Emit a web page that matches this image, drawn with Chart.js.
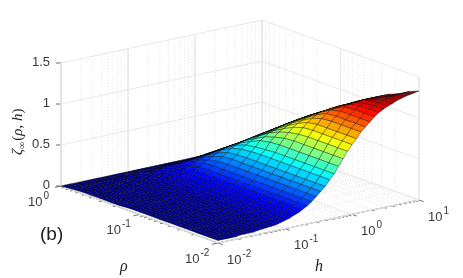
<!DOCTYPE html>
<html>
<head>
<meta charset="utf-8">
<title>zeta surface</title>
<script src="https://cdn.jsdelivr.net/npm/chart.js@4"></script>
<style>
  html, body { margin: 0; padding: 0; background: #fff; }
  canvas { display: block; }
</style>
</head>
<body>
<canvas id="surface" width="463" height="278"></canvas>
<script>
/* ---- Data ---- */

// log10 of h along a row, log10 of rho down the rows
const hExp = [-2, -1.933, -1.867, -1.8, -1.733, -1.667, -1.6, -1.533, -1.467, -1.4, -1.333, -1.267, -1.2, -1.133, -1.067, -1, -0.933, -0.867, -0.8, -0.733, -0.667, -0.6, -0.533, -0.467, -0.4, -0.333, -0.267, -0.2, -0.133, -0.067, 0, 0.067, 0.133, 0.2, 0.267, 0.333, 0.4, 0.467, 0.533, 0.6, 0.667, 0.733, 0.8, 0.867, 0.933, 1];
const rhoExp = [0, -0.125, -0.25, -0.375, -0.5, -0.625, -0.75, -0.875, -1, -1.125, -1.25, -1.375, -1.5, -1.625, -1.75, -1.875, -2];

// zeta(rho, h): one row per rho, one column per h
const zeta = [
  [0, 0, 0, 0, 0, 0, 0, 0, 0, 0, 0, 0, 0, 0, 0, 0, 0, 0, 0, 0, 0, 0, 0, 0, 0, 0, 0, 0, 0, 0, 0, 0, 0.005, 0.01, 0.015, 0.025, 0.035, 0.04, 0.05, 0.055, 0.06, 0.065, 0.075, 0.08, 0.09, 0.1],
  [0.01, 0.01, 0.01, 0.01, 0.01, 0.01, 0.01, 0.015, 0.015, 0.015, 0.02, 0.02, 0.02, 0.025, 0.025, 0.025, 0.03, 0.03, 0.035, 0.035, 0.04, 0.04, 0.04, 0.045, 0.045, 0.05, 0.05, 0.05, 0.055, 0.06, 0.07, 0.075, 0.08, 0.09, 0.095, 0.105, 0.115, 0.12, 0.13, 0.135, 0.14, 0.15, 0.155, 0.165, 0.175, 0.19],
  [0.02, 0.02, 0.02, 0.02, 0.02, 0.02, 0.02, 0.02, 0.02, 0.02, 0.03, 0.03, 0.04, 0.04, 0.05, 0.06, 0.065, 0.07, 0.085, 0.09, 0.1, 0.105, 0.11, 0.12, 0.125, 0.13, 0.135, 0.14, 0.15, 0.155, 0.16, 0.165, 0.175, 0.18, 0.19, 0.195, 0.2, 0.205, 0.21, 0.22, 0.23, 0.235, 0.24, 0.25, 0.26, 0.275],
  [0.02, 0.02, 0.02, 0.02, 0.02, 0.03, 0.03, 0.03, 0.03, 0.03, 0.04, 0.04, 0.05, 0.055, 0.065, 0.075, 0.08, 0.1, 0.115, 0.13, 0.145, 0.16, 0.175, 0.185, 0.195, 0.205, 0.21, 0.22, 0.23, 0.24, 0.245, 0.25, 0.255, 0.265, 0.27, 0.28, 0.285, 0.29, 0.295, 0.305, 0.315, 0.325, 0.335, 0.345, 0.36, 0.375],
  [0.02, 0.02, 0.02, 0.02, 0.03, 0.03, 0.03, 0.03, 0.04, 0.04, 0.05, 0.05, 0.06, 0.065, 0.08, 0.09, 0.1, 0.12, 0.135, 0.155, 0.18, 0.205, 0.23, 0.25, 0.27, 0.285, 0.295, 0.305, 0.315, 0.325, 0.33, 0.34, 0.35, 0.36, 0.37, 0.38, 0.39, 0.395, 0.405, 0.415, 0.425, 0.43, 0.44, 0.45, 0.46, 0.47],
  [0.02, 0.02, 0.02, 0.03, 0.03, 0.03, 0.03, 0.04, 0.04, 0.04, 0.05, 0.05, 0.06, 0.07, 0.08, 0.1, 0.11, 0.14, 0.16, 0.19, 0.22, 0.25, 0.28, 0.31, 0.34, 0.365, 0.38, 0.39, 0.4, 0.41, 0.415, 0.425, 0.435, 0.45, 0.46, 0.47, 0.48, 0.49, 0.5, 0.51, 0.52, 0.53, 0.54, 0.545, 0.555, 0.56],
  [0.02, 0.03, 0.03, 0.03, 0.03, 0.03, 0.03, 0.04, 0.04, 0.04, 0.05, 0.05, 0.06, 0.07, 0.08, 0.1, 0.11, 0.13, 0.16, 0.19, 0.22, 0.26, 0.3, 0.35, 0.39, 0.43, 0.455, 0.47, 0.485, 0.5, 0.505, 0.515, 0.525, 0.535, 0.55, 0.56, 0.57, 0.575, 0.585, 0.595, 0.6, 0.61, 0.62, 0.63, 0.635, 0.64],
  [0.03, 0.03, 0.03, 0.03, 0.03, 0.04, 0.04, 0.04, 0.04, 0.05, 0.055, 0.06, 0.065, 0.07, 0.085, 0.1, 0.115, 0.14, 0.16, 0.19, 0.22, 0.26, 0.31, 0.36, 0.405, 0.46, 0.5, 0.53, 0.555, 0.575, 0.585, 0.6, 0.615, 0.63, 0.64, 0.65, 0.66, 0.665, 0.67, 0.68, 0.69, 0.695, 0.7, 0.705, 0.715, 0.72],
  [0.03, 0.03, 0.03, 0.03, 0.03, 0.04, 0.04, 0.04, 0.04, 0.05, 0.055, 0.06, 0.065, 0.07, 0.085, 0.1, 0.115, 0.14, 0.16, 0.19, 0.22, 0.26, 0.31, 0.36, 0.41, 0.475, 0.52, 0.585, 0.62, 0.655, 0.67, 0.69, 0.705, 0.72, 0.73, 0.74, 0.75, 0.755, 0.76, 0.77, 0.775, 0.78, 0.785, 0.79, 0.795, 0.8],
  [0.03, 0.03, 0.03, 0.03, 0.03, 0.04, 0.04, 0.04, 0.04, 0.05, 0.055, 0.06, 0.065, 0.07, 0.085, 0.1, 0.115, 0.14, 0.16, 0.19, 0.22, 0.26, 0.31, 0.36, 0.41, 0.48, 0.53, 0.61, 0.66, 0.71, 0.74, 0.765, 0.785, 0.8, 0.81, 0.82, 0.83, 0.835, 0.84, 0.845, 0.85, 0.855, 0.86, 0.865, 0.87, 0.87],
  [0.03, 0.03, 0.03, 0.03, 0.03, 0.04, 0.04, 0.04, 0.04, 0.05, 0.055, 0.06, 0.065, 0.07, 0.085, 0.1, 0.115, 0.14, 0.16, 0.19, 0.22, 0.26, 0.31, 0.36, 0.41, 0.48, 0.54, 0.62, 0.69, 0.75, 0.8, 0.835, 0.86, 0.88, 0.895, 0.905, 0.91, 0.915, 0.92, 0.925, 0.93, 0.935, 0.94, 0.94, 0.945, 0.95],
  [0.03, 0.03, 0.03, 0.03, 0.03, 0.04, 0.04, 0.04, 0.04, 0.05, 0.055, 0.06, 0.065, 0.07, 0.085, 0.1, 0.115, 0.14, 0.16, 0.19, 0.22, 0.26, 0.31, 0.36, 0.41, 0.48, 0.54, 0.62, 0.7, 0.77, 0.84, 0.89, 0.93, 0.96, 0.98, 0.99, 1, 1.005, 1.01, 1.01, 1.01, 1.015, 1.02, 1.02, 1.02, 1.02],
  [0.03, 0.03, 0.03, 0.03, 0.03, 0.04, 0.04, 0.04, 0.04, 0.05, 0.055, 0.06, 0.065, 0.07, 0.085, 0.1, 0.115, 0.14, 0.16, 0.19, 0.22, 0.26, 0.31, 0.36, 0.41, 0.48, 0.54, 0.62, 0.7, 0.78, 0.85, 0.91, 0.97, 1.02, 1.05, 1.06, 1.07, 1.075, 1.08, 1.08, 1.08, 1.085, 1.09, 1.09, 1.09, 1.09],
  [0.03, 0.03, 0.03, 0.03, 0.03, 0.04, 0.04, 0.04, 0.04, 0.05, 0.055, 0.06, 0.065, 0.07, 0.085, 0.1, 0.115, 0.14, 0.16, 0.19, 0.22, 0.26, 0.31, 0.36, 0.41, 0.48, 0.54, 0.62, 0.7, 0.78, 0.85, 0.91, 0.98, 1.03, 1.08, 1.12, 1.14, 1.15, 1.155, 1.16, 1.16, 1.16, 1.16, 1.16, 1.16, 1.16],
  [0.03, 0.03, 0.03, 0.03, 0.03, 0.04, 0.04, 0.04, 0.04, 0.05, 0.055, 0.06, 0.065, 0.07, 0.085, 0.1, 0.115, 0.14, 0.16, 0.19, 0.22, 0.26, 0.31, 0.36, 0.41, 0.48, 0.54, 0.62, 0.7, 0.78, 0.85, 0.91, 0.98, 1.03, 1.08, 1.13, 1.165, 1.185, 1.2, 1.205, 1.21, 1.21, 1.21, 1.21, 1.21, 1.21],
  [0.03, 0.03, 0.03, 0.03, 0.03, 0.04, 0.04, 0.04, 0.04, 0.05, 0.055, 0.06, 0.065, 0.07, 0.085, 0.1, 0.115, 0.14, 0.16, 0.19, 0.22, 0.26, 0.31, 0.36, 0.41, 0.48, 0.54, 0.62, 0.7, 0.78, 0.85, 0.91, 0.98, 1.03, 1.08, 1.13, 1.17, 1.2, 1.225, 1.24, 1.255, 1.265, 1.27, 1.27, 1.275, 1.28],
  [0.03, 0.03, 0.03, 0.03, 0.03, 0.04, 0.04, 0.04, 0.04, 0.05, 0.055, 0.06, 0.065, 0.07, 0.085, 0.1, 0.115, 0.14, 0.16, 0.19, 0.22, 0.26, 0.31, 0.36, 0.41, 0.48, 0.54, 0.62, 0.7, 0.78, 0.85, 0.91, 0.98, 1.03, 1.08, 1.13, 1.17, 1.2, 1.225, 1.245, 1.27, 1.285, 1.3, 1.31, 1.32, 1.33]
];

const zTicks = [0, 0.5, 1, 1.5];
const zTickLabels = ['0', '0.5', '1', '1.5'];
const hTicks = [-2, -1, 0, 1];
const rhoTicks = [0, -1, -2];
const minorSteps = [2, 3, 4, 5, 6, 7, 8, 9];

/* ---- View: fixed 3D projection of the box, rounded from the axes ---- */

const ORIGIN = { x: 61, y: 186 };        // rho = 1, h = 0.01, z = 0
const H_SPAN = { x: 201, y: -43 };       // h from 0.01 to 10
const RHO_SPAN = { x: 157, y: 57 };      // rho from 1 to 0.01
const Z_UNIT = 82;
const Z_MAX = 1.33;

const GRID_MAJOR = '#e8e8e8';
const GRID_MINOR = '#e2e2e2';
const AXIS_COLOR = '#6e6e6e';
const TEXT_COLOR = '#3a3a3a';

function project(hLog, rhoLog, z) {
  const t = (hLog + 2) / 3;
  const s = -rhoLog / 2;
  return {
    x: ORIGIN.x + H_SPAN.x * t + RHO_SPAN.x * s,
    y: ORIGIN.y + H_SPAN.y * t + RHO_SPAN.y * s - Z_UNIT * z,
  };
}

/**
 * Jet colormap, v in 0..1.
 */
function jet(v) {
  const clamp = (a) => Math.max(0, Math.min(1, a));
  const r = clamp(Math.min(4 * v - 1.5, -4 * v + 4.5));
  const g = clamp(Math.min(4 * v - 0.5, -4 * v + 3.5));
  const b = clamp(Math.min(4 * v + 0.5, -4 * v + 2.5));
  return `rgb(${Math.round(r * 255)},${Math.round(g * 255)},${Math.round(b * 255)})`;
}

/* ---- Datasets ---- */

function _line(points, color, width, dash) {
  return {
    data: points,
    showLine: true,
    fill: false,
    borderColor: color,
    borderWidth: width,
    borderDash: dash || [],
    pointRadius: 0,
    tension: 0,
  };
}

function surfaceCells() {
  const cells = [];
  const rows = rhoExp.length - 1;
  const cols = hExp.length - 1;
  for (let i = 0; i < rows; i++) {
    for (let j = 0; j < cols; j++) {
      const corners = [[i, j], [i, j + 1], [i + 1, j + 1], [i + 1, j]];
      const points = corners.map(([a, b]) => project(hExp[b], rhoExp[a], zeta[a][b]));
      points.push(points[0]);
      const mean = corners.reduce((sum, [a, b]) => sum + zeta[a][b], 0) / 4;
      cells.push({
        depth: j / cols + (rows - i) / rows,
        dataset: {
          data: points,
          showLine: true,
          fill: 'shape',
          backgroundColor: jet(mean / Z_MAX),
          borderColor: 'rgba(0,0,0,0.62)',
          borderWidth: 0.6,
          pointRadius: 0,
          tension: 0,
        },
      });
    }
  }
  // Chart.js paints the first dataset last, so the nearest cell goes first
  cells.sort((p, q) => p.depth - q.depth);
  return cells.map((c) => c.dataset);
}

function boxLines() {
  const lines = [];
  const hMin = hTicks[0];
  const hMax = hTicks[hTicks.length - 1];
  const rhoMax = rhoTicks[0];
  const rhoMin = rhoTicks[rhoTicks.length - 1];
  const zTop = zTicks[zTicks.length - 1];

  // h grid: down the back wall, across the floor
  const hGrid = (e, color, dash) => {
    lines.push(_line([project(e, rhoMax, zTop), project(e, rhoMax, 0), project(e, rhoMin, 0)], color, 1, dash));
  };
  // rho grid: down the right wall, across the floor
  const rhoGrid = (e, color, dash) => {
    lines.push(_line([project(hMax, e, zTop), project(hMax, e, 0), project(hMin, e, 0)], color, 1, dash));
  };

  hTicks.forEach((e, n) => {
    hGrid(e, GRID_MAJOR);
    if (n < hTicks.length - 1) minorSteps.forEach((m) => hGrid(e + Math.log10(m), GRID_MINOR, [1, 2]));
  });
  rhoTicks.forEach((e, n) => {
    rhoGrid(e, GRID_MAJOR);
    if (n < rhoTicks.length - 1) minorSteps.forEach((m) => rhoGrid(e - 1 + Math.log10(m), GRID_MINOR, [1, 2]));
  });
  zTicks.forEach((z) => {
    lines.push(_line([project(hMin, rhoMax, z), project(hMax, rhoMax, z), project(hMax, rhoMin, z)], GRID_MAJOR, 1));
  });

  // Axis rulers
  lines.push(_line([project(hMin, rhoMax, 0), project(hMin, rhoMax, zTop)], AXIS_COLOR, 1));
  lines.push(_line([project(hMin, rhoMax, 0), project(hMin, rhoMin, 0), project(hMax, rhoMin, 0)], AXIS_COLOR, 1));

  // Tick marks
  zTicks.forEach((z) => {
    const p = project(hMin, rhoMax, z);
    lines.push(_line([p, { x: p.x - 5, y: p.y }], AXIS_COLOR, 1));
  });
  hTicks.forEach((e, n) => {
    const p = project(e, rhoMin, 0);
    lines.push(_line([p, project(e, rhoMin - 0.06, 0)], AXIS_COLOR, 1));
    if (n < hTicks.length - 1) {
      minorSteps.forEach((m) => {
        const q = project(e + Math.log10(m), rhoMin, 0);
        lines.push(_line([q, project(e + Math.log10(m), rhoMin - 0.03, 0)], AXIS_COLOR, 1));
      });
    }
  });
  rhoTicks.forEach((e, n) => {
    const p = project(hMin, e, 0);
    lines.push(_line([p, project(hMin - 0.09, e, 0)], AXIS_COLOR, 1));
    if (n < rhoTicks.length - 1) {
      minorSteps.forEach((m) => {
        const q = project(hMin, e - 1 + Math.log10(m), 0);
        lines.push(_line([q, project(hMin - 0.045, e - 1 + Math.log10(m), 0)], AXIS_COLOR, 1));
      });
    }
  });
  return lines;
}

/* ---- Text ---- */

const SANS = '"Liberation Sans", Arial, sans-serif';
const SERIF = '"Liberation Serif", "DejaVu Serif", serif';

function powerLabel(ctx, x, y, exp) {
  ctx.font = `13px ${SANS}`;
  ctx.fillText('10', x, y);
  const w = ctx.measureText('10').width;
  ctx.font = `10px ${SANS}`;
  ctx.fillText(String(exp), x + w + 1, y - 6);
}

const labelPlugin = {
  id: 'boxLabels',
  afterDraw(chart) {
    const { ctx, scales } = chart;
    const px = (p) => ({ x: scales.x.getPixelForValue(p.x), y: scales.y.getPixelForValue(p.y) });

    ctx.save();
    ctx.fillStyle = TEXT_COLOR;
    ctx.textBaseline = 'middle';

    ctx.textAlign = 'right';
    ctx.font = `13px ${SANS}`;
    zTicks.forEach((z, n) => {
      const p = px(project(hTicks[0], rhoTicks[0], z));
      ctx.fillText(zTickLabels[n], p.x - 11, p.y - 1);
    });

    ctx.textAlign = 'left';
    rhoTicks.forEach((e) => {
      const p = px(project(hTicks[0], e, 0));
      powerLabel(ctx, p.x - 33, p.y + 16, e);
    });
    hTicks.forEach((e) => {
      const p = px(project(e, rhoTicks[rhoTicks.length - 1], 0));
      powerLabel(ctx, p.x + 9, p.y + 17, e);
    });

    ctx.fillStyle = '#222';
    ctx.font = `italic 16px ${SERIF}`;
    ctx.fillText('ρ', 120, 267);
    ctx.fillText('h', 315, 267);

    ctx.font = `19px ${SANS}`;
    ctx.fillText('(b)', 40, 235);

    // Rotated z label, set piece by piece from the bottom up
    ctx.translate(18, 155);
    ctx.rotate(-Math.PI / 2);
    let cursor = 0;
    ctx.font = `italic 15px ${SERIF}`;
    ctx.fillText('ζ', cursor, 0);
    cursor += ctx.measureText('ζ').width;
    ctx.font = `10px ${SERIF}`;
    ctx.fillText('∞', cursor, 4);
    cursor += ctx.measureText('∞').width + 1;
    ctx.font = `15px ${SERIF}`;
    ctx.fillText('(', cursor, 0);
    cursor += ctx.measureText('(').width;
    ctx.font = `italic 15px ${SERIF}`;
    ctx.fillText('ρ', cursor, 0);
    cursor += ctx.measureText('ρ').width;
    ctx.font = `15px ${SERIF}`;
    ctx.fillText(', ', cursor, 0);
    cursor += ctx.measureText(', ').width;
    ctx.font = `italic 15px ${SERIF}`;
    ctx.fillText('h', cursor, 0);
    cursor += ctx.measureText('h').width;
    ctx.font = `15px ${SERIF}`;
    ctx.fillText(')', cursor, 0);
    ctx.restore();
  },
};

/* ---- Chart ---- */

new Chart(document.getElementById('surface').getContext('2d'), {
  type: 'scatter',
  data: { datasets: [...surfaceCells(), ...boxLines()] },
  options: {
    responsive: false,
    animation: false,
    events: [],
    layout: { padding: 0 },
    plugins: {
      legend: { display: false },
      tooltip: { enabled: false },
    },
    scales: {
      x: { type: 'linear', min: 0, max: 463, display: false },
      y: { type: 'linear', min: 0, max: 278, reverse: true, display: false },
    },
  },
  plugins: [labelPlugin],
});
</script>
</body>
</html>
